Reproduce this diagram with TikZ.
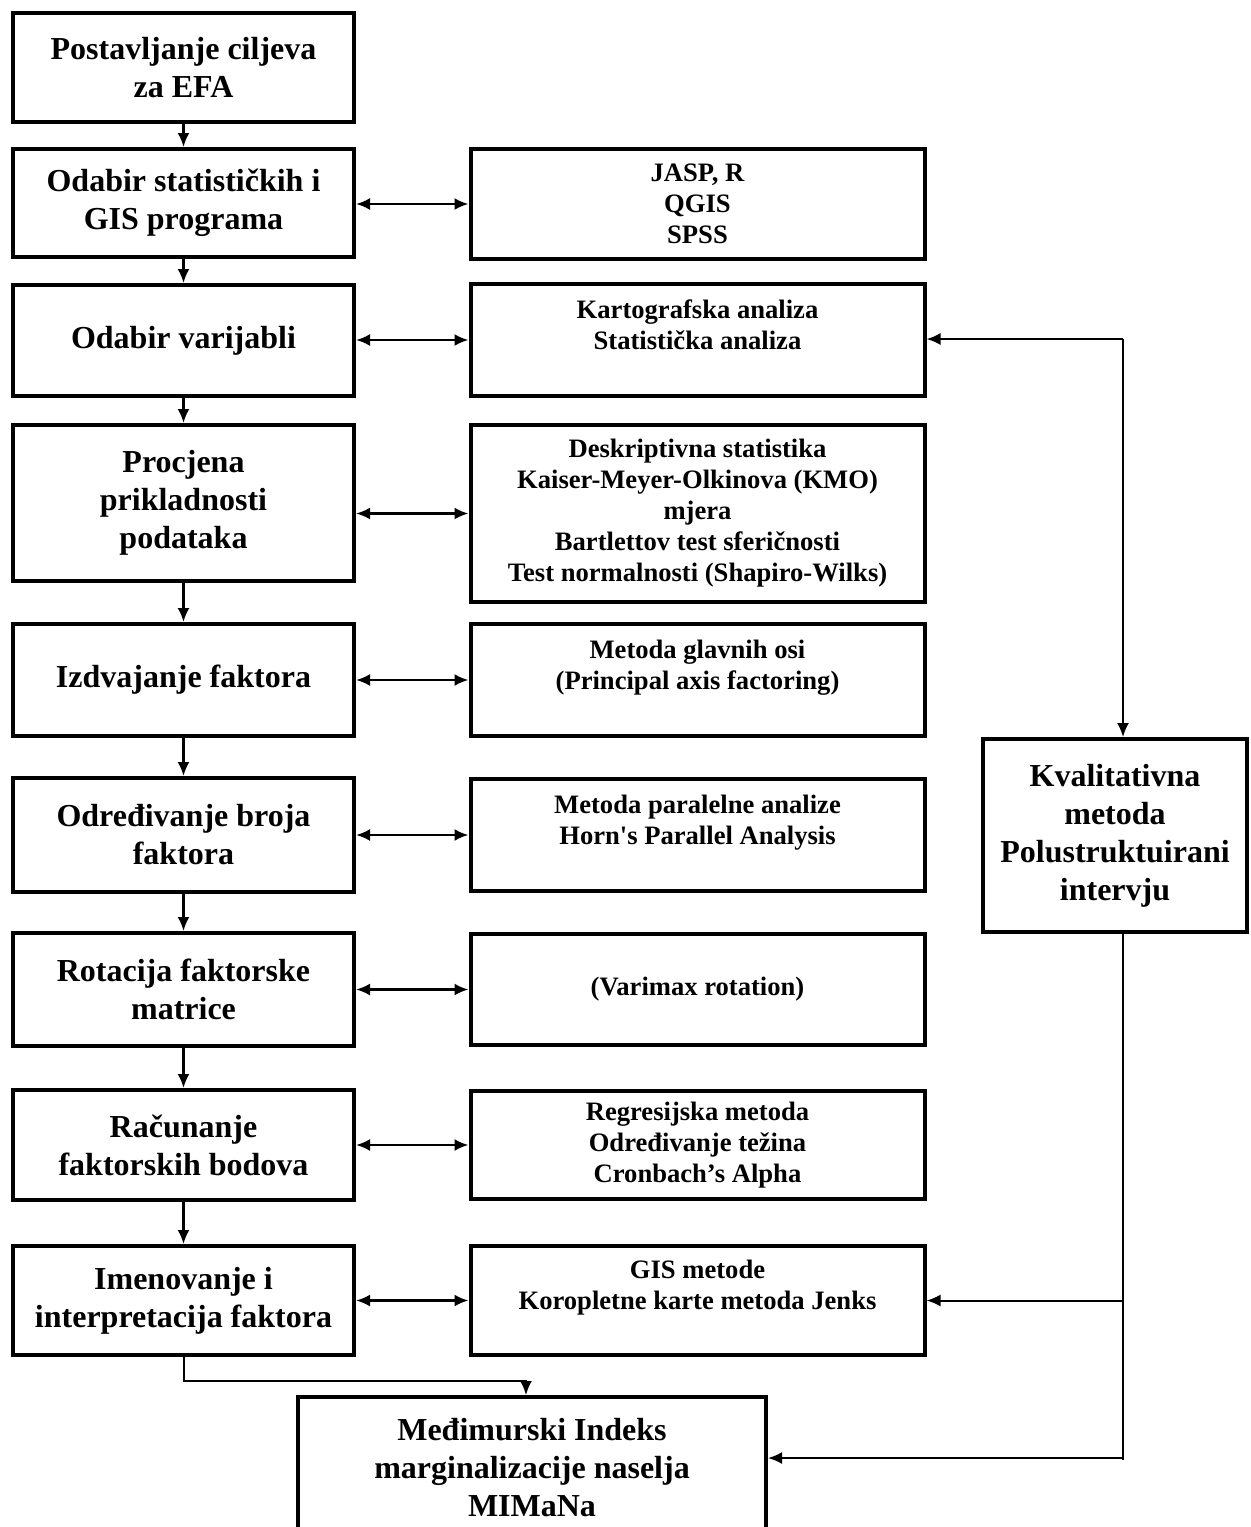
\documentclass[tikz,border=0pt]{standalone}
\usepackage{fontspec}
\setmainfont{Liberation Serif}
\usetikzlibrary{arrows.meta}

\tikzset{
  korak/.style={draw, line width=2pt, align=center, inner sep=2pt,
    font=\fontsize{16}{19}\selectfont\bfseries, minimum width=170.5pt},
  metoda/.style={draw, line width=2pt, align=center, inner sep=2pt,
    font=\fontsize{13.3}{15.5}\selectfont\bfseries, minimum width=227pt},
  veza/.style={->, line width=1.2pt},
  dvosmjer/.style={<->, line width=1.2pt},
  povratna/.style={->, line width=1pt}
}

\begin{document}
\begin{tikzpicture}[x=0.5pt, y=-0.5pt, >={Latex[length=7pt,width=6pt]}]
  \useasboundingbox (0,0) rectangle (1251,1527);
  \clip (0,0) rectangle (1251,1527);

  % koraci EFA
  \node[korak, minimum height=54.5pt] (l1) at (183.5,67.5) {Postavljanje ciljeva\\za EFA};
  \node[korak, minimum height=54pt] (l2) at (183.5,203) {Odabir statističkih i\\GIS programa};
  \node[korak, minimum height=55.5pt] (l3) at (183.5,340.5) {Odabir varijabli};
  \node[korak, minimum height=78pt] (l4) at (183.5,503) {Procjena\\prikladnosti\\podataka};
  \node[korak, minimum height=56pt] (l5) at (183.5,680) {Izdvajanje faktora};
  \node[korak, minimum height=57pt] (l6) at (183.5,835) {Određivanje broja\\faktora};
  \node[korak, minimum height=56.5pt] (l7) at (183.5,989.5) {Rotacija faktorske\\matrice};
  \node[korak, minimum height=55pt] (l8) at (183.5,1145) {Računanje\\faktorskih bodova};
  \node[korak, minimum height=54.5pt] (l9) at (183.5,1300.5) {Imenovanje i\\interpretacija faktora};

  % metode i alati
  \node[metoda, minimum height=55pt] (r1) at (697.5,204) {JASP, R\\QGIS\\SPSS};
  \node[metoda, minimum height=56pt] (r2) at (697.5,340) {Kartografska analiza\\Statistička analiza\\ \mbox{}};
  \node[metoda, minimum height=88.5pt] (r3) at (697.5,513.5) {Deskriptivna statistika\\Kaiser-Meyer-Olkinova (KMO)\\mjera\\Bartlettov test sferičnosti\\Test normalnosti (Shapiro-Wilks)};
  \node[metoda, minimum height=56pt] (r4) at (697.5,680) {Metoda glavnih osi\\(Principal axis factoring)\\ \mbox{}};
  \node[metoda, minimum height=56pt] (r5) at (697.5,835) {Metoda paralelne analize\\Horn\textquotesingle s Parallel Analysis\\ \mbox{}};
  \node[metoda, minimum height=55.5pt] (r6) at (697.5,989.5) {(Varimax rotation)};
  \node[metoda, minimum height=54pt] (r7) at (697.5,1145) {Regresijska metoda\\Određivanje težina\\Cronbach’s Alpha};
  \node[metoda, minimum height=54.5pt] (r8) at (697.5,1300.5) {GIS metode\\Koropletne karte metoda Jenks\\ \mbox{}};

  \node[korak, minimum width=132pt, minimum height=96.5pt] (kv) at (1115,835.5) {Kvalitativna\\metoda\\Polustruktuirani\\intervju};
  \node[korak, minimum width=234pt, minimum height=71pt] (mim) at (532,1468) {Međimurski Indeks\\marginalizacije naselja\\MIMaNa};

  % tok
  \foreach \a/\b in {l1/l2,l2/l3,l3/l4,l4/l5,l5/l6,l6/l7,l7/l8,l8/l9}
    \draw[veza] (\a.south) -- (\b.north);
  \foreach \a/\b in {l2/r1,l3/r2,l4/r3,l5/r4,l6/r5,l7/r6,l8/r7,l9/r8}
    \draw[dvosmjer] (\b.west -| \a.east) -- (\b.west);

  \coordinate (ulaz) at (526,1381);
  \draw[veza, line width=1pt] (l9.south) |- (ulaz) -- (ulaz |- mim.north);

  % povratna veza
  \coordinate (fbgore) at (1123,339);
  \coordinate (fbdolje) at (1123,1458);
  \draw[povratna] (fbgore) -- (r2.east |- fbgore);
  \draw[povratna] (fbgore) -- (fbgore |- kv.north);
  \draw[line width=1pt] (fbgore |- kv.south) -- ([yshift=-1pt]fbdolje);
  \draw[povratna] (fbgore |- r8.east) -- (r8.east);
  \draw[povratna] (fbdolje) -- (fbdolje -| mim.east);
\end{tikzpicture}
\end{document}
